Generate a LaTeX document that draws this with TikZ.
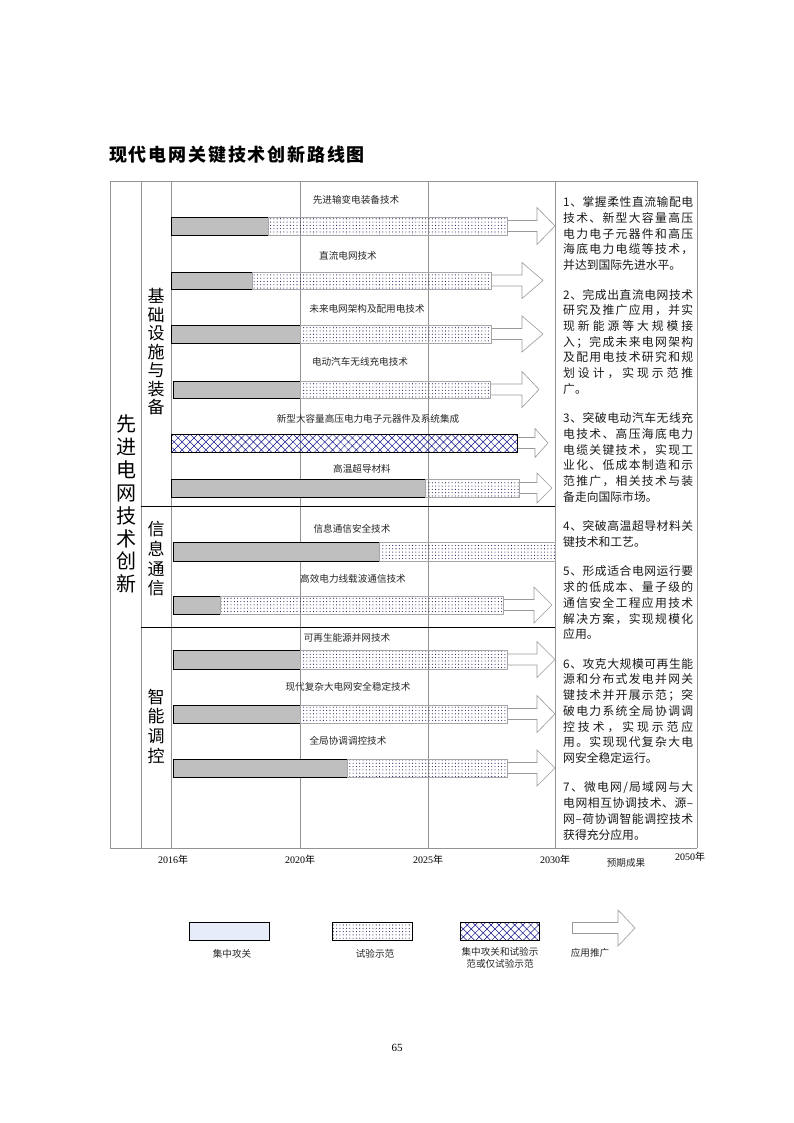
\documentclass[tikz,border=0pt]{standalone}
\usepackage{fontspec}
\setmainfont{Liberation Serif}
\newfontfamily\cjk{Noto Sans CJK SC}
\usetikzlibrary{patterns.meta}

% spread the characters of one line over a given width
\newcommand\jlEnd{}
\newcommand\jlA[1]{#1\jlB}
\newcommand\jlB[1]{\ifx#1\jlEnd\else\hfil#1\expandafter\jlB\fi}
\newcommand\spreadto[2]{\makebox[#1][s]{\jlA#2\jlEnd}}
\newcommand\jl[1]{\spreadto{130pt}{#1}}

\definecolor{dotblue}{RGB}{25,25,90}
\definecolor{hatchblue}{RGB}{20,20,140}
\definecolor{legendblue}{RGB}{230,236,248}

\tikzset{
  gridline/.style={draw=gray!85, line width=0.5pt},
  sectionline/.style={draw=black, line width=0.7pt},
  focusbar/.style={fill=black!25, draw=black, line width=0.9pt},
  trialbar/.style={pattern={Dots[distance=3.3pt,radius=0.55pt]}, pattern color=dotblue, draw=gray!70, line width=0.4pt},
  mixbar/.style={pattern={Hatch[angle=45,distance=5.6pt,line width=0.5pt]}, pattern color=hatchblue, draw=black, line width=0.9pt},
  pusharrow/.style={draw=gray!80, fill=white, line width=0.6pt},
  barlabel/.style={inner sep=0, font=\cjk\fontsize{9.6}{11}\selectfont, text=black!85},
  sidelabel/.style={inner sep=0, align=center},
  resulttext/.style={inner sep=0, anchor=north west, align=left, font=\cjk\fontsize{11.8}{15.7}\selectfont, text=black!90},
  yearlabel/.style={inner sep=0, font=\fontsize{10}{12}\selectfont},
}

% arrow: shaft start, head start, tip, centre line, half height of head
\newcommand\growarrow[5]{\draw[pusharrow] (#1,#4-5.5) -- (#2,#4-5.5) -- (#2,#4-#5) -- (#3,#4) -- (#2,#4+#5) -- (#2,#4+5.5) -- (#1,#4+5.5);}

\begin{document}
\begin{tikzpicture}[x=1pt, y=-1pt]
   \useasboundingbox (0,0) rectangle (794,1123);
   \node[inner sep=0, font=\cjk\bfseries\fontsize{18}{20}\selectfont] (title) at (237,155) {\spreadto{256pt}{现代电网关键技术创新路线图}};

   % frame and time grid
   \draw[gridline] (110,181) -- (697,181);
   \draw[gridline] (110,848) -- (697,848);
   \draw[gridline] (110,181) -- (110,848);
   \draw[gridline] (141,181) -- (141,848);
   \draw[gridline] (171,181) -- (171,848);
   \draw[gridline] (300,181) -- (300,848);
   \draw[gridline] (428,181) -- (428,848);
   \draw[gridline] (555,181) -- (555,848);
   \draw[gridline] (697,181) -- (697,848);
   \draw[sectionline] (141,506) -- (555,506);
   \draw[sectionline] (141,627) -- (555,627);

   % row titles
   \node[sidelabel, font=\cjk\fontsize{20}{22.9}\selectfont] (main) at (126,504) {先\\进\\电\\网\\技\\术\\创\\新};
   \node[sidelabel, font=\cjk\fontsize{17}{18.5}\selectfont] (infra) at (156,352) {基\\础\\设\\施\\与\\装\\备};
   \node[sidelabel, font=\cjk\fontsize{17}{19.7}\selectfont] (info) at (156,559) {信\\息\\通\\信};
   \node[sidelabel, font=\cjk\fontsize{17}{19.7}\selectfont] (ctrl) at (156,726) {智\\能\\调\\控};

   % bars
   \node[barlabel] (b1) at (356,200) {先进输变电装备技术};
   \growarrow{507}{537}{555}{226}{18.5}
   \draw[focusbar] (171,217) rectangle (268,235);
   \draw[trialbar] (268,217) rectangle (507,235);

   \node[barlabel] (b2) at (348,256) {直流电网技术};
   \growarrow{491}{522}{543}{280.5}{18}
   \draw[focusbar] (171,272) rectangle (252,289);
   \draw[trialbar] (252,272) rectangle (491,289);

   \node[barlabel] (b3) at (367,309) {未来电网架构及配用电技术};
   \growarrow{491}{522}{543}{334}{18}
   \draw[focusbar] (171,325) rectangle (300,343);
   \draw[trialbar] (300,325) rectangle (491,343);

   \node[barlabel] (b4) at (360,362) {电动汽车无线充电技术};
   \growarrow{490}{522}{539}{389.5}{18}
   \draw[focusbar] (173,381) rectangle (300,398);
   \draw[trialbar] (300,381) rectangle (490,398);

   \node[barlabel] (b5) at (368,419) {新型大容量高压电力电子元器件及系统集成};
   \growarrow{517}{535}{548}{443}{14.5}
   \draw[mixbar] (171,434) rectangle (517,452);

   \node[barlabel] (b6) at (362,469) {高温超导材料};
   \growarrow{519}{537}{552}{488}{15}
   \draw[focusbar] (171,479) rectangle (425,497);
   \draw[trialbar] (425,479) rectangle (519,497);

   \node[barlabel] (b7) at (352,529) {信息通信安全技术};
   \draw[focusbar] (173,542) rectangle (379,561);
   \draw[trialbar] (379,542) rectangle (555,561);

   \node[barlabel] (b8) at (353,579) {高效电力线载波通信技术};
   \growarrow{503}{534}{552}{605}{18}
   \draw[focusbar] (173,596) rectangle (220,614);
   \draw[trialbar] (220,596) rectangle (503,614);

   \node[barlabel] (b9) at (347,638) {可再生能源并网技术};
   \growarrow{507}{537}{555}{659.5}{18}
   \draw[focusbar] (173,650) rectangle (300,669);
   \draw[trialbar] (300,650) rectangle (507,669);

   \node[barlabel] (b10) at (348,687) {现代复杂大电网安全稳定技术};
   \growarrow{507}{537}{555}{714}{18.5}
   \draw[focusbar] (173,705) rectangle (300,723);
   \draw[trialbar] (300,705) rectangle (507,723);

   \node[barlabel] (b11) at (348,741) {全局协调调控技术};
   \growarrow{507}{537}{555}{768}{18}
   \draw[focusbar] (173,759) rectangle (347,777);
   \draw[trialbar] (347,759) rectangle (507,777);

   % expected results
   \node[resulttext] (r1) at (563,196.6) {\jl{1、掌握柔性直流输配电}\\\jl{技术、新型大容量高压}\\\jl{电力电子元器件和高压}\\\jl{海底电力电缆等技术，}\\并达到国际先进水平。};
   \node[resulttext] (r2) at (563,288.9) {\jl{2、完成出直流电网技术}\\\jl{研究及推广应用，并实}\\\jl{现新能源等大规模接}\\\jl{入；完成未来电网架构}\\\jl{及配用电技术研究和规}\\\jl{划设计，实现示范推}\\广。};
   \node[resulttext] (r3) at (563,412.6) {\jl{3、突破电动汽车无线充}\\\jl{电技术、高压海底电力}\\\jl{电缆关键技术，实现工}\\\jl{业化、低成本制造和示}\\\jl{范推广，相关技术与装}\\备走向国际市场。};
   \node[resulttext] (r4) at (563,520.6) {\jl{4、突破高温超导材料关}\\键技术和工艺。};
   \node[resulttext] (r5) at (563,565.8) {\jl{5、形成适合电网运行要}\\\jl{求的低成本、量子级的}\\\jl{通信安全工程应用技术}\\\jl{解决方案，实现规模化}\\应用。};
   \node[resulttext] (r6) at (563,658.1) {\jl{6、攻克大规模可再生能}\\\jl{源和分布式发电并网关}\\\jl{键技术并开展示范；突}\\\jl{破电力系统全局协调调}\\\jl{控技术，实现示范应}\\\jl{用。实现现代复杂大电}\\网安全稳定运行。};
   \node[resulttext] (r7) at (563,781.8) {\jl{7、微电网/局域网与大}\\\jl{电网相互协调技术、源–}\\\jl{网–荷协调智能调控技术}\\获得充分应用。};

   % time axis
   \node[yearlabel] (y2016) at (173,860) {2016{\cjk 年}};
   \node[yearlabel] (y2020) at (300,860) {2020{\cjk 年}};
   \node[yearlabel] (y2025) at (428,860) {2025{\cjk 年}};
   \node[yearlabel] (y2030) at (555,860) {2030{\cjk 年}};
   \node[barlabel] (goal) at (626,863) {预期成果};
   \node[yearlabel] (y2050) at (690,857) {2050{\cjk 年}};

   % legend
   \draw[focusbar, fill=legendblue] (189,922) rectangle (269,940);
   \node[barlabel] (l1) at (232,954) {集中攻关};
   \draw[trialbar, draw=black, line width=0.8pt] (332,922) rectangle (412,940);
   \node[barlabel] (l2) at (375,954) {试验示范};
   \draw[mixbar] (460,922) rectangle (539,940);
   \node[barlabel, align=center, font=\cjk\fontsize{9.6}{11.5}\selectfont] (l3) at (500,958) {集中攻关和试验示\\范或仅试验示范};
   \growarrow{572}{618}{635}{928}{18}
   \draw[pusharrow] (572,922.5) -- (572,933.5);
   \node[barlabel] (l4) at (590,953) {应用推广};

   \node[inner sep=0, font=\fontsize{11}{13}\selectfont] (page) at (397,1048) {65};
\end{tikzpicture}
\end{document}
